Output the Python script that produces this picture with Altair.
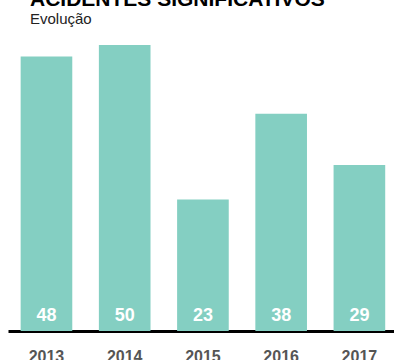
import altair as alt
import pandas as pd

years = ["2013", "2014", "2015", "2016", "2017"]
values = [48, 50, 23, 38, 29]

df = pd.DataFrame({"year": years, "value": values})

base = alt.Chart(df)

x = alt.X(
    "year:N",
    sort=years,
    title=None,
    scale=alt.Scale(paddingInner=0.34, paddingOuter=0.137, align=0.59),
    axis=alt.Axis(
        labelAngle=0,
        labelFont="Liberation Sans",
        labelFontSize=16,
        labelFontWeight="bold",
        labelColor="#555555",
        labelPadding=17,
        ticks=False,
        tickSize=0,
        domainColor="#000000",
        domainWidth=3,
        grid=False,
    ),
)
y = alt.Y(
    "value:Q",
    title=None,
    scale=alt.Scale(domain=[0, 50], nice=False, zero=True),
    axis=None,
)

bars = base.mark_bar(color="#84CFC2").encode(x=x, y=y)

labels = base.mark_text(
    font="Liberation Sans",
    fontSize=18,
    fontWeight="bold",
    color="#ffffff",
    baseline="alphabetic",
    dy=-10,
).encode(x=x, y=alt.datum(0), text="value:Q")

chart = (
    alt.layer(bars, labels)
    .properties(
        width=386,
        height=286,
        autosize=alt.AutoSizeParams(type="none"),
        padding={"left": 8, "top": 45, "right": 0, "bottom": 29},
        title=alt.TitleParams(
            text="ACIDENTES SIGNIFICATIVOS",
            subtitle="Evolução",
            anchor="start",
            frame="group",
            dx=22,
            offset=18,
            font="Liberation Sans",
            fontSize=21,
            fontWeight="bold",
            color="#000000",
            subtitleFont="Liberation Sans",
            subtitleFontSize=15,
            subtitleColor="#222222",
            subtitlePadding=2,
        ),
    )
    .configure_view(stroke=None)
)

chart.save("out.html", embed_options={"renderer": "svg", "actions": False})
